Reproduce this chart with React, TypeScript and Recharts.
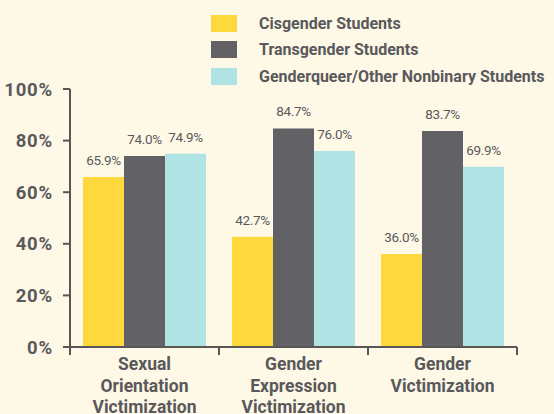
import { BarChart, Bar, XAxis, YAxis, Legend, LabelList } from "recharts";

// values (percent of students)
const categories = [
  "Sexual\nOrientation\nVictimization",
  "Gender\nExpression\nVictimization",
  "Gender\nVictimization",
];
const cisgender = [65.9, 42.7, 36.0];
const transgender = [74.0, 84.7, 83.7];
const genderqueer = [74.9, 76.0, 69.9];
const yTicks = [0, 20, 40, 60, 80, 100];

const seriesNames = [
  "Cisgender Students",
  "Transgender Students",
  "Genderqueer/Other Nonbinary Students",
];

const FONT = "Roboto, 'Noto Sans', sans-serif";
const TEXT = "#59595c";
const AXIS = "#5a5655";
const BG = "#fef8e6";

const chartData = categories.map((name, i) => ({
  name,
  cis: cisgender[i],
  trans: transgender[i],
  gq: genderqueer[i],
}));

// label under each group + tick marks on the group boundaries
function CategoryTick({ x, y, payload, index, width, visibleTicksCount }: any) {
  const lines = String(payload.value).split("\n");
  const bw = width / visibleTicksCount;
  return (
    <g>
      <line x1={x - bw / 2} x2={x - bw / 2} y1={y} y2={y + 8} stroke={AXIS} strokeWidth={2} />
      {index === visibleTicksCount - 1 && (
        <line x1={x + bw / 2} x2={x + bw / 2} y1={y} y2={y + 8} stroke={AXIS} strokeWidth={2} />
      )}
      <text
        x={x}
        y={y}
        textAnchor="middle"
        fill={TEXT}
        fontFamily={FONT}
        fontWeight={700}
        fontSize={17.5}
      >
        {lines.map((line, i) => (
          <tspan key={i} x={x} dy={i === 0 ? 23 : 21.5}>
            {line}
          </tspan>
        ))}
      </text>
    </g>
  );
}

function LegendBox({ payload }: any) {
  const items = [...(payload || [])].sort(
    (a: any, b: any) => seriesNames.indexOf(a.value) - seriesNames.indexOf(b.value)
  );
  return (
    <div style={{ fontFamily: FONT, whiteSpace: "nowrap" }}>
      {items.map((item: any) => (
        <div
          key={item.value}
          style={{ display: "flex", alignItems: "center", height: 26.5 }}
        >
          <div
            style={{ width: 26, height: 17, background: item.color, marginRight: 22 }}
          />
          <span style={{ color: TEXT, fontWeight: 700, fontSize: 16 }}>
            {item.value}
          </span>
        </div>
      ))}
    </div>
  );
}

const pct = (v: any) => `${Number(v).toFixed(1)}%`;
const labelStyle = { fill: TEXT, fontFamily: FONT, fontSize: 13.5, letterSpacing: -0.3 };

export default function App() {
  return (
    <div
      style={{
        position: "absolute",
        left: 0,
        top: 0,
        width: 554,
        height: 414,
        background: BG,
      }}
    >
      <BarChart
        width={554}
        height={414}
        data={chartData}
        margin={{ top: 89, right: 37, bottom: 0, left: 0 }}
        barCategoryGap={13}
        barGap={0}
      >
        <XAxis
          dataKey="name"
          height={67}
          tickLine={false}
          axisLine={{ stroke: AXIS, strokeWidth: 2 }}
          tickSize={0}
          tickMargin={0}
          interval={0}
          tick={<CategoryTick />}
        />
        <YAxis
          width={70}
          domain={[0, 100]}
          ticks={yTicks}
          tickFormatter={(v) => `${v}%`}
          tickSize={7}
          tickMargin={10}
          axisLine={{ stroke: AXIS, strokeWidth: 2 }}
          tickLine={{ stroke: AXIS, strokeWidth: 2 }}
          tick={{ fill: TEXT, fontFamily: FONT, fontWeight: 700, fontSize: 18.5, letterSpacing: 0.8 }}
        />
        <Legend
          layout="horizontal"
          verticalAlign="middle"
          align="center"
          wrapperStyle={{ top: 10, left: 211, width: "auto" }}
          content={<LegendBox />}
        />
        <Bar dataKey="cis" name={seriesNames[0]} fill="#fed93e" isAnimationActive={false}>
          <LabelList dataKey="cis" position="top" offset={12} formatter={pct} style={labelStyle} />
        </Bar>
        <Bar dataKey="trans" name={seriesNames[1]} fill="#616166" isAnimationActive={false}>
          <LabelList dataKey="trans" position="top" offset={12} formatter={pct} style={labelStyle} />
        </Bar>
        <Bar dataKey="gq" name={seriesNames[2]} fill="#afe3e4" isAnimationActive={false}>
          <LabelList dataKey="gq" position="top" offset={12} formatter={pct} style={labelStyle} />
        </Bar>
      </BarChart>
    </div>
  );
}
